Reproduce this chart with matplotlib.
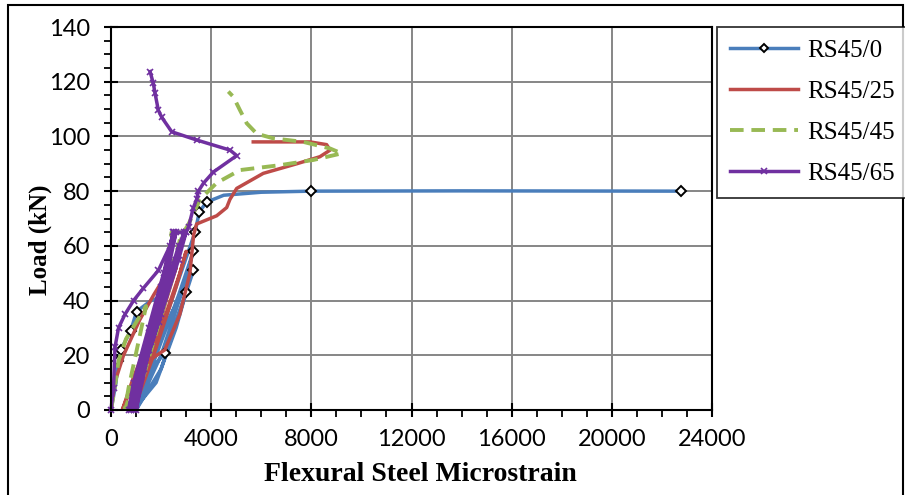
import matplotlib
matplotlib.use("Agg")
from matplotlib import pyplot as plt
from matplotlib.patches import Rectangle
from matplotlib.ticker import MultipleLocator

# strain / load readings for each specimen
rs0_strain = [0, 200, 290, 390, 790, 1020, 1600, 2200, 1900, 1300, 700, 1200, 2150, 3000,
              2600, 1800, 900, 1500, 2400, 3290, 2900, 2000, 1000, 1600, 2700, 3290, 2900,
              2000, 1000, 1700, 2600, 3355, 3530, 3820, 4500, 6000, 8000, 14000, 22750]
rs0_load = [0, 10, 18, 22, 29, 36, 40, 42, 30, 12, 0, 10, 21, 43,
            30, 10, 0, 15, 35, 51, 40, 15, 0, 15, 42, 58, 45,
            20, 0, 20, 45, 65, 72.5, 76, 78.5, 79.6, 80, 80.1, 80]
rs0_marks = [2, 3, 4, 5, 12, 13, 19, 25, 31, 32, 33, 36, 38]

rs25_strain = [0, 150, 500, 1150, 1700, 2100, 1700, 1100, 450, 900, 1600, 2300, 2600, 2200,
               1400, 700, 1300, 2000, 2750, 3000, 2600, 1700, 900, 1500, 2150, 2750, 3150,
               3300, 3420, 4220, 4620, 4750, 5020, 6080, 7415, 8345, 8750, 8610, 7950, 5680]
rs25_load = [0, 10, 20, 33, 42, 48, 35, 15, 0, 12, 28, 45, 52, 40,
             15, 0, 15, 30, 50, 58, 45, 20, 0, 18, 22, 35, 50,
             64, 68, 71, 74, 77, 81, 86.5, 90, 92.6, 95, 97, 98, 98]

rs45_strain = [0, 150, 300, 600, 1000, 1400, 1100, 700, 550, 1000, 1600, 2000, 1700, 1100,
               700, 1200, 1900, 2300, 2000, 1300, 800, 1400, 2100, 2420, 2800, 2500, 1700,
               900, 1600, 2400, 2900, 3100, 3300, 3555, 4220, 5150, 6750, 8080, 9210, 8745,
               7680, 6480, 5820, 5420, 5150, 4885, 4685]
rs45_load = [0, 8, 18, 26, 32, 38, 25, 8, 0, 12, 30, 45, 32, 12,
             0, 15, 38, 55, 42, 18, 0, 20, 45, 65, 65, 50, 25,
             0, 25, 52, 65, 68, 72, 77, 83, 87.7, 89.5, 91.4, 93.8, 95.6,
             98, 99.3, 101, 104.8, 109.6, 114.5, 116.4]

rs65_strain = [0, 100, 160, 300, 560, 900, 1290, 1890, 2355, 2490, 2100, 1500, 900, 700,
               1200, 1800, 2300, 2600, 2300, 1600, 1000, 800, 1400, 2000, 2500, 2900, 2600,
               1900, 1200, 900, 1500, 2200, 2700, 3000, 2700, 2000, 1300, 1000, 1600, 2400,
               3000, 3100, 3290, 3420, 3490, 3700, 4090, 5020, 4750, 3420, 2425, 2025, 1890,
               1760, 1690, 1560]
rs65_load = [0, 8, 23, 30, 35, 40, 44.5, 51, 60, 65, 50, 30, 10, 0,
             15, 35, 55, 65, 52, 30, 10, 0, 22, 45, 65, 65, 55,
             32, 12, 0, 22, 45, 60, 65, 55, 35, 15, 0, 25, 50,
             65, 67, 74, 77, 80, 83, 87, 93, 95, 98.7, 101.7, 107, 109.6,
             115.7, 119.4, 123.7]

series_names = ['RS45/0', 'RS45/25', 'RS45/45', 'RS45/65']

plt.rcParams['font.family'] = ['Liberation Serif', 'DejaVu Serif']

fig = plt.figure(figsize=(9.05, 4.95), dpi=100)
ax = fig.add_axes([111 / 905, 1 - 410 / 495, 601 / 905, 383 / 495])

ax.plot(rs0_strain, rs0_load, color='#4A7EBB', lw=2.5, marker='D', ms=5,
        mfc='white', mec='black', mew=1.4, markevery=rs0_marks, label=series_names[0])
ax.plot(rs25_strain, rs25_load, color='#BE4B48', lw=2.5, label=series_names[1])
ax.plot(rs45_strain, rs45_load, color='#98B954', lw=2.8, ls=(0, (3.5, 2)),
        label=series_names[2])
ax.plot(rs65_strain, rs65_load, color='#7030A0', lw=2.5, marker='x', ms=5, mew=1.2,
        label=series_names[3], clip_on=False)

ax.set_xlim(0, 24000)
ax.set_ylim(0, 140)
ax.xaxis.set_major_locator(MultipleLocator(4000))
ax.xaxis.set_minor_locator(MultipleLocator(1000))
ax.yaxis.set_major_locator(MultipleLocator(20))
ax.yaxis.set_minor_locator(MultipleLocator(5))
ax.grid(True, which='major', color='#868686', lw=1.4)
ax.set_axisbelow(True)
for s in ax.spines.values():
    s.set_linewidth(1.5)
    s.set_color('black')
ax.tick_params(which='major', direction='inout', length=10, width=1.5)
ax.tick_params(which='minor', direction='out', length=5, width=1.3)
ax.tick_params(axis='y', which='major', pad=10)
ax.tick_params(axis='x', which='major', pad=9)
for lab in ax.get_xticklabels() + ax.get_yticklabels():
    lab.set_family(['Lato', 'DejaVu Sans'])
    lab.set_fontsize(17)

ax.set_xlabel('Flexural Steel Microstrain', fontsize=20, fontweight='bold')
ax.xaxis.set_label_coords(0.514, -0.135)
ax.set_ylabel('Load (kN)', fontsize=18, fontweight='bold')
ax.yaxis.set_label_coords(-0.098, 0.444)

leg = fig.legend(loc='upper left', bbox_to_anchor=(717 / 905, 1 - 27 / 495), fontsize=18,
                 frameon=True, fancybox=False, edgecolor='black', handlelength=2.75,
                 labelspacing=0.74, borderpad=0.5, handletextpad=0.35, borderaxespad=0,
                 markerscale=0.9)
leg.get_frame().set_linewidth(1.3)

fig.patches.append(Rectangle((8 / 905, -0.05), 895 / 905, 1.05 - 5 / 495,
                             transform=fig.transFigure, fill=False, lw=1.5,
                             edgecolor='black'))

fig.savefig('out.png', dpi=100)
